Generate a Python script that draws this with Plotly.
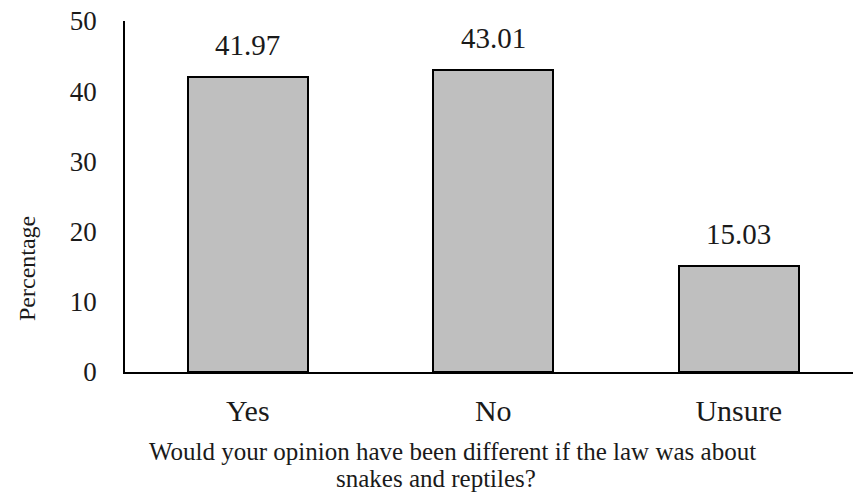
import plotly.graph_objects as go

# Survey responses
categories = ["Yes", "No", "Unsure"]
percentages = [41.97, 43.01, 15.03]
y_ticks = [0, 10, 20, 30, 40, 50]
x_title_lines = [
    "Would your opinion have been different if the law was about",
    "snakes and reptiles?",
]

serif = "Liberation Serif"

fig = go.Figure()
fig.add_trace(go.Bar(
    x=list(range(len(categories))),
    y=percentages,
    width=0.49,
    marker=dict(color="#bfbfbf", line=dict(color="black", width=2)),
    hoverinfo="skip",
))

annotations = []
for i, v in enumerate(percentages):
    annotations.append(dict(
        x=i, y=v, xref="x", yref="y", text=f"{v:.2f}",
        showarrow=False, yanchor="bottom", yshift=14,
        font=dict(family=serif, size=29, color="#1a1a1a"),
    ))

# Axis titles placed as free text (pixel positions, converted below)
free_text = [
    dict(x=27, y=269, text="Percentage", textangle=-90, size=24),
    dict(x=452, y=451, text=x_title_lines[0], textangle=0, size=25),
    dict(x=436, y=478, text=x_title_lines[1], textangle=0, size=25),
]

W, H = 853, 496
ml, mr, mt, mb = 125, 0, 21, 124
pw, ph = W - ml - mr, H - mt - mb
for t in free_text:
    annotations.append(dict(
        x=(t["x"] - ml) / pw, y=(H - mb - t["y"]) / ph,
        xref="paper", yref="paper", text=t["text"], textangle=t["textangle"],
        showarrow=False, xanchor="center", yanchor="middle",
        font=dict(family=serif, size=t["size"], color="#1a1a1a"),
    ))

fig.update_layout(
    width=W, height=H,
    margin=dict(l=ml, r=mr, t=mt, b=mb, pad=0),
    plot_bgcolor="white", paper_bgcolor="white",
    showlegend=False,
    bargap=0,
    annotations=annotations,
    xaxis=dict(
        range=[-0.5, -0.5 + pw / 245.5],
        tickmode="array", tickvals=list(range(len(categories))), ticktext=categories,
        showline=True, linecolor="black", linewidth=1.5,
        showgrid=False, zeroline=False, ticks="",
        ticklabelstandoff=11,
        tickfont=dict(family=serif, size=30, color="#1a1a1a"),
        fixedrange=True,
    ),
    yaxis=dict(
        range=[0, 50],
        tickmode="array", tickvals=y_ticks,
        showline=True, linecolor="black", linewidth=1.5,
        showgrid=False, zeroline=False, ticks="",
        ticklabelstandoff=21,
        tickfont=dict(family=serif, size=27, color="#1a1a1a"),
        fixedrange=True,
    ),
)

fig.write_html("out.html")
